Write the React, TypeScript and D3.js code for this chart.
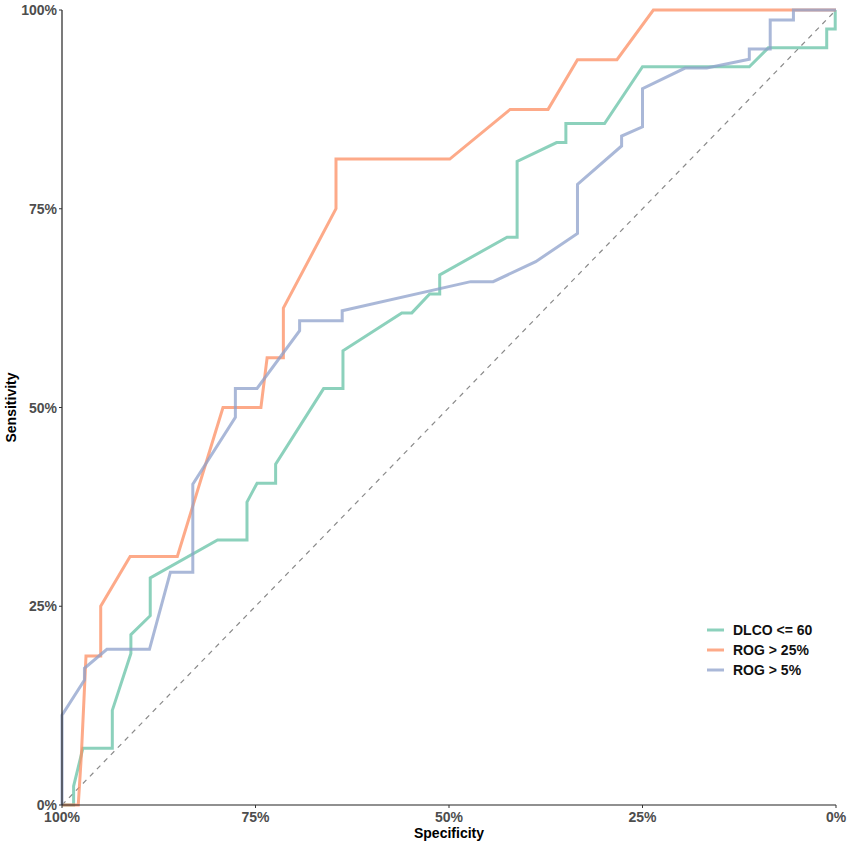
import React from 'react';
import * as d3 from 'd3';

// ROC curves, points as [specificity %, sensitivity %]
const dlcoCurve: [number, number][] = [
  [100, 0], [98.5, 0], [98.5, 2.38], [97.3, 7.14], [93.5, 7.14], [93.5, 11.9],
  [91.1, 19.05], [91.1, 21.43], [88.6, 23.81], [88.6, 28.57], [79.9, 33.33],
  [76.1, 33.33], [76.1, 38.1], [74.8, 40.48], [72.4, 40.48], [72.4, 42.86],
  [66.2, 52.38], [63.7, 52.38], [63.7, 57.14], [56.1, 61.9], [54.8, 61.9],
  [52.5, 64.29], [51.2, 64.29], [51.2, 66.67], [42.5, 71.43], [41.2, 71.43],
  [41.2, 80.95], [36.1, 83.33], [34.9, 83.33], [34.9, 85.71], [29.9, 85.71],
  [25.0, 92.86], [11.2, 92.86], [8.75, 95.24], [1.2, 95.24], [1.2, 97.62],
  [0.1, 97.62], [0.1, 100],
];

const rog25Curve: [number, number][] = [
  [100, 0], [97.9, 0], [97.5, 6.25], [97.2, 12.5], [96.9, 18.75], [95.0, 18.75],
  [95.0, 25], [91.2, 31.25], [85.1, 31.25], [79.2, 50], [74.3, 50],
  [73.5, 56.25], [71.4, 56.25], [71.4, 62.5], [64.6, 75], [64.6, 81.25],
  [49.9, 81.25], [42.1, 87.5], [37.2, 87.5], [33.4, 93.75], [28.3, 93.75],
  [23.6, 100], [0, 100],
];

const rog5Curve: [number, number][] = [
  [100, 0], [100, 11.3], [97.1, 15.7], [97.1, 17.2], [94.2, 19.58], [88.7, 19.58],
  [86.0, 29.27], [83.1, 29.27], [83.1, 40.34], [77.6, 48.77], [77.6, 52.4],
  [74.8, 52.4], [69.3, 59.66], [69.3, 60.92], [63.8, 60.92], [63.8, 62.18],
  [47.2, 65.83], [44.3, 65.83], [38.8, 68.34], [33.4, 71.9], [33.4, 78.07],
  [27.7, 82.9], [27.7, 84.15], [25.0, 85.3], [25.0, 90.1], [19.5, 92.7],
  [16.7, 92.7], [11.2, 93.8], [11.2, 95.1], [8.5, 95.1], [8.5, 98.74],
  [5.5, 98.74], [5.5, 100], [0, 100],
];

const seriesNames = ['DLCO <= 60', 'ROG > 25%', 'ROG > 5%'];
const seriesColors = ['#66c2a5', '#fc8d62', '#8da0cb'];
const curves = [dlcoCurve, rog25Curve, rog5Curve];
const tickValues = [100, 75, 50, 25, 0];

const W = 847;
const H = 849;
const margin = { top: 10, right: 11, bottom: 44, left: 62 };

const App: React.FC = () => {
  const x = d3.scaleLinear().domain([100, 0]).range([margin.left, W - margin.right]);
  const y = d3.scaleLinear().domain([0, 100]).range([H - margin.bottom, margin.top]);

  const line = d3.line<[number, number]>()
    .x(d => x(d[0]))
    .y(d => y(d[1]));

  const font = 'Helvetica, "Liberation Sans", Arial, sans-serif';

  return (
    <svg width={W} height={H} style={{ position: 'absolute', left: 0, top: 0, background: '#fff' }}
      fontFamily={font}>
      {/* reference diagonal */}
      <line x1={x(100)} y1={y(0)} x2={x(0)} y2={y(100)}
        stroke="#8a8a8a" strokeWidth={1.2} strokeDasharray="5,5" />

      {curves.map((c, i) => (
        <path key={i} d={line(c) || ''} fill="none" stroke={seriesColors[i]}
          strokeOpacity={0.75} strokeWidth={3} strokeLinejoin="miter" />
      ))}

      {/* axes */}
      <line x1={x(100)} y1={y(0)} x2={x(0)} y2={y(0)} stroke="#222" strokeWidth={1.2} />
      <line x1={x(100)} y1={y(0)} x2={x(100)} y2={y(100)} stroke="#222" strokeWidth={1.2} />

      {tickValues.map(t => (
        <g key={'x' + t}>
          <line x1={x(t)} x2={x(t)} y1={y(0)} y2={y(0) + 3} stroke="#333" />
          <text x={x(t)} y={y(0) + 17} textAnchor="middle" fontSize={14}
            fontWeight="bold" fill="#4d4d4d">{t}%</text>
        </g>
      ))}
      {tickValues.map(t => (
        <g key={'y' + t}>
          <line x1={x(100) - 3} x2={x(100)} y1={y(t)} y2={y(t)} stroke="#333" />
          <text x={x(100) - 5} y={y(t) + 5} textAnchor="end" fontSize={14}
            fontWeight="bold" fill="#4d4d4d">{t}%</text>
        </g>
      ))}

      <text x={(x(100) + x(0)) / 2} y={838} textAnchor="middle" fontSize={14}
        fontWeight="bold" fill="#000">Specificity</text>
      <text transform={`translate(16,${(y(0) + y(100)) / 2}) rotate(-90)`} textAnchor="middle"
        fontSize={14} fontWeight="bold" fill="#000">Sensitivity</text>

      {/* legend */}
      {seriesNames.map((n, i) => (
        <g key={n} transform={`translate(707,${630 + i * 20})`}>
          <line x1={0} x2={17} y1={0} y2={0} stroke={seriesColors[i]} strokeOpacity={0.75}
            strokeWidth={3} />
          <text x={26} y={5} fontSize={14} fontWeight="bold" fill="#111">{n}</text>
        </g>
      ))}
    </svg>
  );
};

export default App;
